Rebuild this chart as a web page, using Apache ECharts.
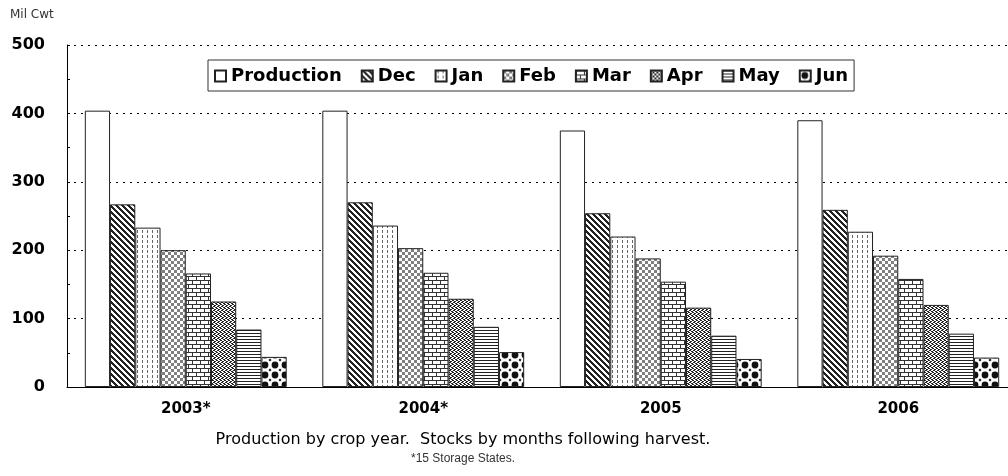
<!DOCTYPE html>
<html>
<head>
<meta charset="utf-8">
<script src="https://cdn.jsdelivr.net/npm/echarts@6/dist/echarts.min.js"></script>
<style>
html,body{margin:0;padding:0;background:#fff;overflow:hidden;width:1008px;height:476px;}
#chart{width:1017px;height:476px;}
</style>
</head>
<body>
<div id="chart"></div>
<script>
// ---- Data ----
const categories = ['2003*', '2004*', '2005', '2006'];
const seriesNames = ['Production', 'Dec', 'Jan', 'Feb', 'Mar', 'Apr', 'May', 'Jun'];
const production = [404, 404, 375, 390];
const dec = [267, 270, 254, 259];
const jan = [233, 236, 220, 227];
const feb = [200, 203, 188, 192];
const mar = [166, 167, 154, 158];
const apr = [125, 129, 116, 120];
const may = [84, 88, 75, 78];
const jun = [44, 51, 41, 43];
const yTicks = [0, 100, 200, 300, 400, 500];

const seriesValues = [production, dec, jan, feb, mar, apr, may, jun];

// ---- Patterns ----
function makePattern(w, h, draw) {
  const c = document.createElement('canvas');
  c.width = w; c.height = h;
  const g = c.getContext('2d');
  g.fillStyle = '#fff';
  g.fillRect(0, 0, w, h);
  draw(g, w, h);
  return { image: c, repeat: 'repeat' };
}
function px(g, x, y, col) { g.fillStyle = col; g.fillRect(x, y, 1, 1); }

const patterns = [
  '#ffffff',
  makePattern(6, 6, (g) => {
    for (let y = 0; y < 6; y++) for (let x = 0; x < 6; x++)
      if (((x - y) % 6 + 6) % 6 < 3) px(g, x, y, '#222');
  }),
  makePattern(5, 5, (g) => {
    g.fillStyle = '#666';
    g.fillRect(2, 0, 1, 3);
  }),
  makePattern(6, 6, (g) => {
    g.fillStyle = '#808080';
    g.fillRect(0, 0, 3, 3);
    g.fillRect(3, 3, 3, 3);
  }),
  makePattern(8, 8, (g) => {
    g.fillStyle = '#333';
    g.fillRect(0, 0, 8, 1);
    g.fillRect(0, 4, 8, 1);
    g.fillRect(0, 1, 1, 3);
    g.fillRect(4, 5, 1, 3);
  }),
  makePattern(4, 4, (g) => {
    px(g, 0, 0, '#222'); px(g, 1, 0, '#222');
    px(g, 2, 1, '#222'); px(g, 3, 1, '#222');
    px(g, 1, 2, '#222'); px(g, 0, 3, '#222');
    px(g, 3, 3, '#222'); px(g, 2, 2, '#222');
  }),
  makePattern(1, 3, (g) => {
    g.fillStyle = '#222';
    g.fillRect(0, 0, 1, 1);
  }),
  makePattern(10, 10, (g) => {
    g.fillStyle = '#111';
    g.beginPath(); g.arc(5, 5, 3.4, 0, Math.PI * 2); g.fill();
    g.beginPath(); g.moveTo(0, -1.5); g.lineTo(1.5, 0); g.lineTo(0, 1.5); g.lineTo(-1.5, 0); g.fill();
    g.beginPath(); g.moveTo(10, -1.5); g.lineTo(11.5, 0); g.lineTo(10, 1.5); g.lineTo(8.5, 0); g.fill();
    g.beginPath(); g.moveTo(0, 8.5); g.lineTo(1.5, 10); g.lineTo(0, 11.5); g.lineTo(-1.5, 10); g.fill();
    g.beginPath(); g.moveTo(10, 8.5); g.lineTo(11.5, 10); g.lineTo(10, 11.5); g.lineTo(8.5, 10); g.fill();
  })
];

const FONT = 'DejaVu Sans, Verdana, sans-serif';

const chart = echarts.init(document.getElementById('chart'), null, { renderer: 'canvas', width: 1017, height: 476 });

const series = seriesNames.map((name, i) => ({
  name: name,
  type: 'bar',
  data: seriesValues[i],
  barGap: '0%',
  barCategoryGap: '15%',
  itemStyle: { color: patterns[i], borderColor: '#222', borderWidth: 1 },
  emphasis: { disabled: true }
}));

const option = {
  animation: false,
  backgroundColor: '#fff',
  textStyle: { fontFamily: FONT },
  grid: { left: 67, right: 0, top: 45, bottom: 89, containLabel: false },
  legend: {
    data: seriesNames,
    left: 208,
    top: 60,
    orient: 'horizontal',
    icon: 'rect',
    itemWidth: 11,
    itemHeight: 11,
    itemGap: 19,
    padding: [7, 6, 6, 6],
    borderColor: '#333',
    borderWidth: 1,
    backgroundColor: '#fff',
    textStyle: { fontSize: 18, fontWeight: 'bold', color: '#000', fontFamily: FONT }
  },
  xAxis: {
    type: 'category',
    data: categories,
    axisLine: { lineStyle: { color: '#000', width: 1 } },
    axisTick: { show: false },
    axisLabel: { fontSize: 15, fontWeight: 'bold', color: '#000', margin: 15, fontFamily: FONT },
    splitLine: { show: false }
  },
  yAxis: {
    type: 'value',
    min: yTicks[0],
    max: yTicks[yTicks.length - 1],
    interval: 100,
    axisLine: { show: true, lineStyle: { color: '#000', width: 1 } },
    axisTick: { show: true, inside: true, length: 3, lineStyle: { color: '#000' } },
    minorTick: { show: true, splitNumber: 2, length: 3, lineStyle: { color: '#000' } },
    axisLabel: { fontSize: 16, fontWeight: 'bold', color: '#000', margin: 22, fontFamily: FONT },
    splitLine: { show: true, lineStyle: { color: '#000', type: [2, 5], width: 1 } }
  },
  graphic: [
    { type: 'text', left: 10, top: 9, style: { text: 'Mil Cwt', fontSize: 12, fill: '#333', fontFamily: FONT } },
    { type: 'text', x: 463, y: 440, style: { text: 'Production by crop year.  Stocks by months following harvest.', fontSize: 16, fill: '#000', align: 'center', verticalAlign: 'middle', fontFamily: FONT } },
    { type: 'text', x: 463, y: 459, style: { text: '*15 Storage States.', fontSize: 12, fill: '#333', align: 'center', verticalAlign: 'middle', fontFamily: 'Liberation Sans, Arial, sans-serif' } }
  ],
  series: series
};

chart.setOption(option);
</script>
</body>
</html>
